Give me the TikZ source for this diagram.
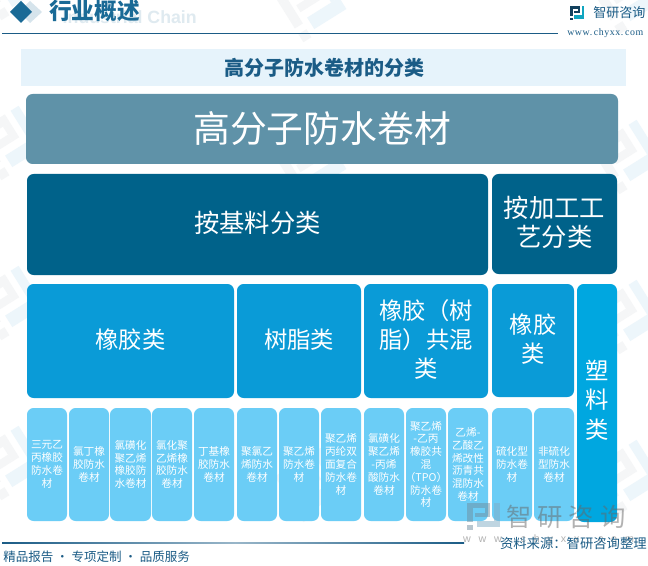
\documentclass[tikz,border=0pt]{standalone}
\usepackage{fontspec}
\setmainfont{Noto Sans CJK SC}
\newfontfamily\latinb{Liberation Sans}
\newfontfamily\monof[LetterSpace=6]{Liberation Serif}
\definecolor{topc}{HTML}{5F92A8}
\definecolor{darkc}{HTML}{00628A}
\definecolor{midc}{HTML}{0A9BD7}
\definecolor{plastc}{HTML}{00A7E0}
\definecolor{leafc}{HTML}{6BCDF6}
\definecolor{barc}{HTML}{E6F3FB}
\definecolor{headc}{HTML}{1A6A96}
\definecolor{navyt}{HTML}{1B5C86}
\definecolor{wmgray}{HTML}{F5F6F7}
\definecolor{wmblue}{HTML}{EDF6FB}
\tikzset{
 cell/.style={inner sep=0pt,text=white,align=center,font=\fontsize{#1}{22}\selectfont},
 leaftext/.style={inner sep=0pt,text=white,align=center,font=\fontsize{8}{9.6}\selectfont},
}
\newcommand{\rbox}[6]{% name x1 y1 x2 y2 color
 \fill[#6,rounded corners=5pt] (#2,#3) rectangle (#4,#5);
 \coordinate (#1) at ({(#2+#4)/2},{(#3+#5)/2});}
\newcommand{\leaf}[4]{% name x1 x2 text
 \rbox{#1}{#2}{408}{#3}{521}{leafc}
 \node[leaftext] at (#1) {#4};}
\newcommand{\logomark}[2]{% P colour, L colour; local box 0..40
 \fill[#1] (0,0) rectangle (28,7);
 \fill[#1] (22,7) rectangle (28,20);
 \fill[#1] (10,14) rectangle (22,20);
 \fill[#1] (0,7) rectangle (7,28);
 \fill[#1] (0,33) rectangle (7,40);
 \fill[#2] (33,0) rectangle (40,26);
 \fill[#2] (12,26) rectangle (40,36);}
\begin{document}
\begin{tikzpicture}[x=0.75pt,y=-0.75pt]
\useasboundingbox (0,0) rectangle (648,566);
\fill[white] (0,0) rectangle (648,566);
% faint watermarks
\foreach \px/\py in {10/-17,10/143,10/303,10/463,312/5,312/165,312/325,312/485,628/-3,628/157,628/317,628/477}{
 \begin{scope}[shift={(\px,\py)},rotate=32]
  \begin{scope}[shift={(-27,-27)},scale=1.35]
   \logomark{wmgray}{wmblue}
  \end{scope}
 \end{scope}}
% header
\node[anchor=east,inner sep=0pt,text=headc!14,font=\latinb\bfseries\fontsize{13.3}{15}\selectfont] (ghost) at (197,17) {Industrial Chain};
\fill[headc!18] (30,1) -- (42,12) -- (30,23) -- (19,12) -- cycle;
\fill[headc] (21,1) -- (32,12) -- (21,23) -- (10,12) -- cycle;
\node[anchor=west,inner sep=0pt,text=headc,font=\fontsize{17}{20}\selectfont\bfseries] (hd) at (49,11) {行业概述};
\draw[navyt,line width=.75pt] (2,33.5) -- (558,33.5);
% logo
\begin{scope}[shift={(570,6)},scale=.36]
 \logomark{navyt!70!black}{headc!60!cyan}
\end{scope}
\node[anchor=west,inner sep=0pt,text=navyt,font=\fontsize{9.8}{11}\selectfont] (lg) at (593,13) {智研咨询};
\node[anchor=west,inner sep=0pt,text=navyt,font=\monof\fontsize{7.4}{9}\selectfont] (url) at (567,33) {www.\,chyxx.\,com};
% title bar
\fill[barc] (21,49) rectangle (626,86);
\node[inner sep=0pt,text=navyt,font=\fontsize{15}{17}\selectfont\bfseries] (ttl) at (324,68) {高分子防水卷材的分类};
% main boxes
\rbox{a}{26}{94}{618}{164}{topc}
\node[cell=27.6] at (a) {高分子防水卷材};
\rbox{b1}{27}{174}{488}{275}{darkc}
\node[cell=19] at ([yshift=1.2pt]b1) {按基料分类};
\rbox{b2}{492}{174}{617}{274}{darkc}
\node[cell=19] at ([yshift=1.2pt]b2) {按加工工\\艺分类};
\rbox{c1}{27}{284}{234}{398}{midc}
\node[cell=17.5] at ([yshift=1.2pt]c1) {橡胶类};
\rbox{c2}{237}{284}{361}{398}{midc}
\node[cell=17.5] at ([yshift=1.2pt]c2) {树脂类};
\rbox{c3}{364}{284}{488}{398}{midc}
\node[cell=17.5] at ([yshift=1.2pt]c3) {橡胶（树\\脂）共混\\类};
\rbox{c4}{492}{284}{574}{397}{midc}
\node[cell=17.5] at ([yshift=1.2pt]c4) {橡胶\\类};
\rbox{c5}{577}{284}{617}{522}{plastc}
\node[cell=17.5] at (597,400) {塑\\料\\类};
% leaves
\leaf{l1}{27}{67}{三元乙\\丙橡胶\\防水卷\\材}
\leaf{l2}{69}{109}{氯丁橡\\胶防水\\卷材}
\leaf{l3}{110}{151}{氯磺化\\聚乙烯\\橡胶防\\水卷材}
\leaf{l4}{152}{192}{氯化聚\\乙烯橡\\胶防水\\卷材}
\leaf{l5}{194}{234}{丁基橡\\胶防水\\卷材}
\leaf{l6}{237}{277}{聚氯乙\\烯防水\\卷材}
\leaf{l7}{279}{319}{聚乙烯\\防水卷\\材}
\leaf{l8}{321}{361}{聚乙烯\\丙纶双\\面复合\\防水卷\\材}
\leaf{l9}{364}{404}{氯磺化\\聚乙烯\\-丙烯\\酸防水\\卷材}
\leaf{l10}{406}{446}{聚乙烯\\-乙丙\\橡胶共\\混\\（TPO）\\防水卷\\材}
\leaf{l11}{448}{488}{乙烯-\\乙酸乙\\烯改性\\沥青共\\混防水\\卷材}
\leaf{l12}{492}{532}{硫化型\\防水卷\\材}
\leaf{l13}{534}{574}{非硫化\\型防水\\卷材}
% big watermark
\begin{scope}[shift={(467,503)},xscale=.82,yscale=.68,opacity=.5]
 \logomark{black!35!headc!60}{headc!55}
\end{scope}
\node[inner sep=0pt,text=black!60,opacity=.5,font=\fontsize{19}{22}\selectfont] (wm) at (566,517) {智\hspace{4.5pt}研\hspace{4.5pt}咨\hspace{4.5pt}询};
\node[inner sep=0pt,text=black!60,opacity=.5,font=\latinb\fontsize{8}{9}\selectfont] (wmu) at (548.5,540) {w\hspace{5.9pt}w\hspace{5.9pt}w\hspace{5.9pt}.\hspace{5.9pt}c\hspace{5.9pt}h\hspace{5.9pt}y\hspace{5.9pt}x\hspace{5.9pt}x\hspace{5.9pt}.\hspace{5.9pt}c\hspace{5.9pt}o\hspace{5.9pt}m};
% footer
\shade[left color=navyt,right color=navyt!45] (2,542.6) rectangle (235,543.9);
\shade[left color=navyt!45,right color=navyt] (235,542.6) rectangle (464,543.9);
\node[anchor=west,inner sep=0pt,text=navyt,font=\fontsize{9.4}{11}\selectfont] (ft) at (3,557) {精品报告 · 专项定制 · 品质服务};
\node[anchor=east,inner sep=0pt,text=navyt,font=\fontsize{10}{11}\selectfont] (src) at (647,543) {资料来源：智研咨询整理};
\end{tikzpicture}
\end{document}
